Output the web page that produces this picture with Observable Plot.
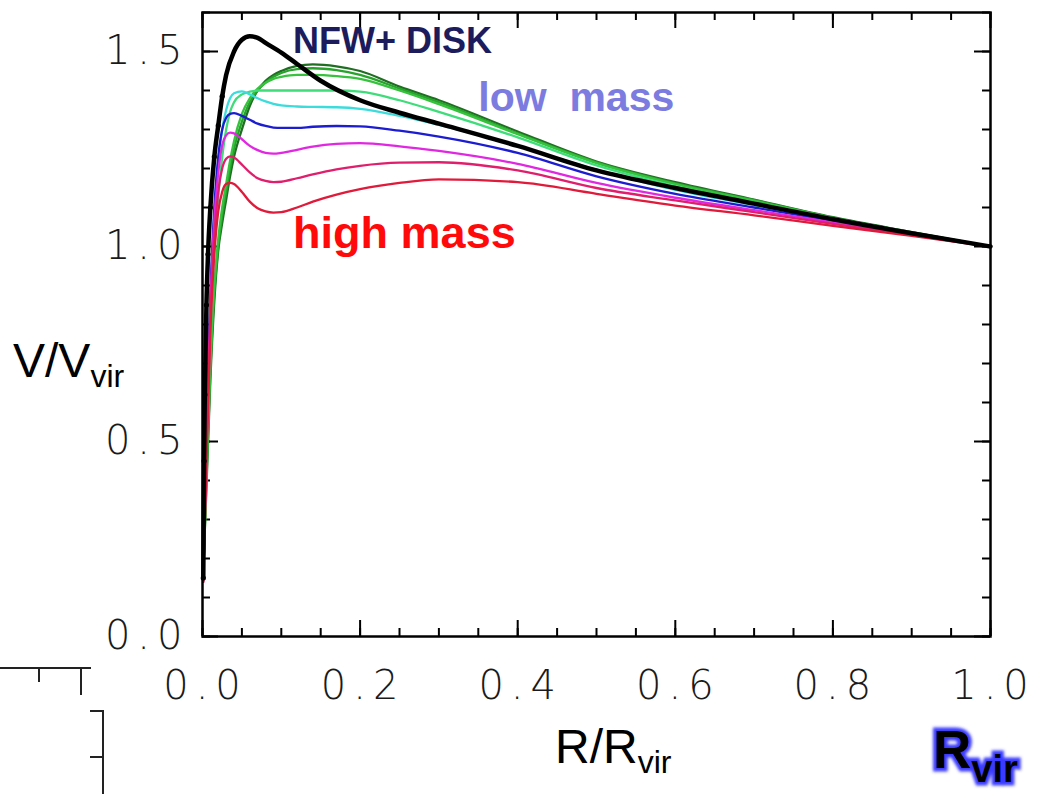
<!DOCTYPE html>
<html><head><meta charset="utf-8">
<script src="https://cdn.jsdelivr.net/npm/d3@7"></script>
<script src="https://cdn.jsdelivr.net/npm/@observablehq/plot@0.6"></script>
<style>
body{margin:0;background:#fff;}
#wrap{position:relative;width:1038px;height:794px;overflow:hidden;background:#fff;}
#overlay{position:absolute;left:0;top:0;pointer-events:none;}
</style></head><body><div id="wrap"></div>
<script>
// ---- data ----
const xs = [0.001,0.005,0.01,0.015,0.02,0.025,0.03,0.035,0.04,0.05,0.06,0.07,0.08,0.09,0.1,0.12,0.14,0.17,0.2,0.25,0.3,0.4,0.5,0.6,0.7,0.8,0.9,1.0];
const g1      = [0.17,0.38,0.66,0.86,0.99,1.06,1.12,1.18,1.23,1.30,1.36,1.40,1.425,1.44,1.45,1.463,1.467,1.462,1.45,1.41,1.375,1.295,1.218,1.165,1.12,1.075,1.037,1.0];
const g2      = [0.16,0.40,0.68,0.88,1.00,1.08,1.14,1.20,1.25,1.32,1.37,1.40,1.42,1.435,1.445,1.455,1.457,1.452,1.44,1.405,1.37,1.29,1.216,1.162,1.119,1.074,1.036,1.0];
const g3      = [0.16,0.42,0.70,0.90,1.02,1.10,1.16,1.22,1.27,1.34,1.38,1.405,1.42,1.43,1.435,1.44,1.44,1.437,1.43,1.40,1.365,1.288,1.214,1.16,1.117,1.073,1.036,1.0];
const g4      = [0.15,0.45,0.78,0.99,1.13,1.23,1.30,1.345,1.37,1.39,1.397,1.40,1.40,1.40,1.40,1.40,1.40,1.40,1.397,1.375,1.345,1.28,1.208,1.155,1.113,1.072,1.036,1.0];
const cyan    = [0.15,0.50,0.85,1.08,1.22,1.30,1.35,1.38,1.393,1.398,1.39,1.38,1.372,1.366,1.362,1.359,1.358,1.357,1.353,1.335,1.312,1.258,1.197,1.145,1.106,1.069,1.034,1.0];
const blue    = [0.15,0.52,0.88,1.10,1.23,1.30,1.33,1.34,1.342,1.335,1.325,1.315,1.309,1.305,1.304,1.304,1.307,1.309,1.308,1.297,1.282,1.24,1.18,1.135,1.10,1.066,1.033,1.0];
const magenta = [0.15,0.50,0.85,1.07,1.19,1.26,1.285,1.292,1.29,1.275,1.258,1.247,1.24,1.238,1.24,1.248,1.256,1.263,1.265,1.257,1.245,1.212,1.163,1.125,1.093,1.062,1.031,1.0];
const crimson = [0.14,0.47,0.82,1.03,1.14,1.20,1.225,1.231,1.228,1.21,1.19,1.175,1.168,1.165,1.166,1.175,1.185,1.198,1.207,1.215,1.216,1.195,1.15,1.118,1.088,1.058,1.029,1.0];
const red     = [0.14,0.45,0.78,0.98,1.09,1.14,1.16,1.163,1.16,1.14,1.115,1.098,1.09,1.087,1.088,1.10,1.115,1.133,1.147,1.163,1.172,1.165,1.135,1.105,1.08,1.053,1.027,1.0];
const nfwX = [0.001,0.002,0.003,0.005,0.007,0.01,0.015,0.02,0.025,0.03,0.04,0.05,0.06,0.07,0.08,0.1,0.12,0.15,0.2,0.25,0.3,0.4,0.5,0.6,0.7,0.8,0.9,1.0];
const nfwY = [0.15,0.45,0.62,0.85,0.98,1.10,1.23,1.31,1.385,1.44,1.50,1.53,1.539,1.535,1.522,1.497,1.468,1.425,1.375,1.343,1.315,1.258,1.195,1.15,1.11,1.07,1.034,1.0];
const seriesNames  = ["g1","g2","g3","g4","cyan","blue","magenta","crimson","red"];
const seriesValues = [g1,g2,g3,g4,cyan,blue,magenta,crimson,red];
const seriesColors = ["#1f6e22","#27a32c","#36c23c","#3fdc7a","#3cdcdc","#1c1cd0","#e028e0","#e01f6c","#e01a3a"];
const xMajor = [0,0.2,0.4,0.6,0.8,1.0];
const xMinor = d3.range(0,21).map(i=>i*0.05);
const yMajor = [0,0.5,1.0,1.5];
const yMinor = d3.range(0,17).map(i=>+(i*0.1).toFixed(1));

// ---- build ----
const lineMarks = seriesNames.map((n,i) => Plot.line(xs.map((x,j)=>({x, y: seriesValues[i][j]})), {x:"x", y:"y", stroke: seriesColors[i], strokeWidth: 2.3, curve:"monotone-x"}));
const nfw = nfwX.map((x,j)=>({x, y:nfwY[j]}));
const tx = 16/788, ty = 16/390;
const tickFont = "DejaVu Sans";

const chart = Plot.plot({
  width: 1038, height: 794,
  marginLeft: 202, marginRight: 48, marginTop: 12, marginBottom: 158,
  x: {domain:[0,1], axis: null}, y: {domain:[0,1.6], axis: null},
  style: {background:"#fff", fontFamily: "Liberation Sans"},
  marks: [
    Plot.ruleX(xMinor, {x: d=>d, y1: 0, y2: ty/2, stroke:"#000", strokeWidth: 2}),
    Plot.ruleX(xMinor, {x: d=>d, y1: 1.6, y2: 1.6-ty/2, stroke:"#000", strokeWidth: 2}),
    Plot.ruleX(xMajor, {x: d=>d, y1: 0, y2: ty, stroke:"#000", strokeWidth: 2}),
    Plot.ruleX(xMajor, {x: d=>d, y1: 1.6, y2: 1.6-ty, stroke:"#000", strokeWidth: 2}),
    Plot.ruleY(yMinor, {y: d=>d, x1: 0, x2: tx/2, stroke:"#000", strokeWidth: 2}),
    Plot.ruleY(yMinor, {y: d=>d, x1: 1, x2: 1-tx/2, stroke:"#000", strokeWidth: 2}),
    Plot.ruleY(yMajor, {y: d=>d, x1: 0, x2: tx, stroke:"#000", strokeWidth: 2}),
    Plot.ruleY(yMajor, {y: d=>d, x1: 1, x2: 1-tx, stroke:"#000", strokeWidth: 2}),
    ...lineMarks,
    Plot.line(nfw, {x:"x", y:"y", stroke:"#000", strokeWidth: 4.5, curve:"monotone-x"}),
    Plot.dot(nfw.filter(d=>d.x<0.03), {x:"x", y:"y", r: 2.6, fill:"#000"}),
    Plot.frame({stroke:"#000", strokeWidth: 2.5}),
    Plot.text(xMajor, {x: d=>d, frameAnchor:"bottom", dy: 62, dx: 3, text: d=>d.toFixed(1), fontSize: 40, fontWeight: 200, fontFamily: tickFont, fill:"#1a1a1a"}),
    Plot.text(yMajor, {y: d=>d, frameAnchor:"left", dx: -13, textAnchor:"end", text: d=>d.toFixed(1), fontSize: 40, fontWeight: 200, fontFamily: tickFont, fill:"#1a1a1a"}),
    Plot.text(["NFW+ DISK"], {x: 0.115, y: 1.526, text: d=>d, textAnchor:"start", lineAnchor:"middle", fontSize: 36, fontWeight:"bold", fill:"#1c1c5c"}),
    Plot.text(["low  mass"], {x: 0.35, y: 1.38, text: d=>d, textAnchor:"start", lineAnchor:"middle", fontSize: 41, fontWeight:"bold", fill:"#7b7be0"}),
    Plot.text(["high mass"], {x: 0.115, y: 1.032, text: d=>d, textAnchor:"start", lineAnchor:"middle", fontSize: 45, fontWeight:"bold", fill:"#ff0a0a"})
  ]
});
// wider letter spacing on tick labels, as in the reference
chart.querySelectorAll(`g[font-family="${tickFont}"]`).forEach(g => g.setAttribute("letter-spacing", "7px"));
const wrap = document.getElementById("wrap");
wrap.appendChild(chart);

// decorative overlay: axis titles, corner label and the clipped fragment of a neighbouring panel
const ns = "http://www.w3.org/2000/svg";
wrap.insertAdjacentHTML("beforeend", `
<svg id="overlay" width="1038" height="794" xmlns="${ns}">
  <defs><filter id="glow" x="-20%" y="-20%" width="140%" height="140%"><feGaussianBlur stdDeviation="1.6"/></filter></defs>
  <text x="13" y="377" font-family="Liberation Sans" font-size="48" fill="#000">V/V<tspan font-size="32" dy="10">vir</tspan></text>
  <text x="555" y="763" font-family="Liberation Sans" font-size="48" fill="#000">R/R<tspan font-size="32" dy="10">vir</tspan></text>
  <g font-family="Liberation Sans" font-weight="bold">
    <text x="933" y="768" font-size="53" fill="#3a3aff" stroke="#3a3aff" stroke-width="7" filter="url(#glow)">R<tspan font-size="38" dy="14">vir</tspan></text>
    <text x="933" y="768" font-size="53" fill="#000">R<tspan font-size="38" dy="14">vir</tspan></text>
  </g>
  <g stroke="#222" stroke-width="2" fill="none">
    <line x1="0" y1="668" x2="91" y2="668"/>
    <line x1="39" y1="668" x2="39" y2="682"/>
    <line x1="81" y1="668" x2="81" y2="695"/>
    <line x1="103" y1="710" x2="103" y2="794"/>
    <line x1="90" y1="711" x2="103" y2="711"/>
    <line x1="90" y1="757" x2="103" y2="757"/>
  </g>
</svg>`);
</script>
</body></html>
